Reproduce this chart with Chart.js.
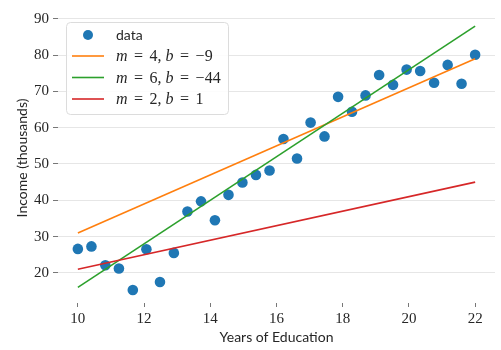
<!DOCTYPE html>
<html><head><meta charset="utf-8">
<script src="https://cdn.jsdelivr.net/npm/chart.js@4/dist/chart.umd.min.js"></script>
<style>html,body{margin:0;padding:0;background:#fff}#wrap{width:501px;height:350px;position:relative}</style>
</head><body><div id="wrap"><canvas id="c"></canvas></div>
<script>
const years = [10.00,10.41,10.83,11.24,11.66,12.07,12.48,12.90,13.31,13.72,14.14,14.55,14.97,15.38,15.79,16.21,16.62,17.03,17.45,17.86,18.28,18.69,19.10,19.52,19.93,20.34,20.76,21.17,21.59,22.00];
const income = [26.6,27.3,22.1,21.2,15.3,26.5,17.5,25.5,36.9,39.7,34.5,41.5,44.9,47.0,48.2,56.9,51.5,61.4,57.6,68.5,64.4,68.9,74.5,71.8,76.0,75.6,72.4,77.3,72.1,80.1];
const lineX = [10, 22];
const lineOrange = [31, 79];
const lineGreen = [16, 88];
const lineRed = [21, 45];
const seriesLabels = ['data', '$m = 4, b = −9', '$m = 6, b = −44', '$m = 2, b = 1'];
const xTicks = [10, 12, 14, 16, 18, 20, 22];
const yTicks = [20, 30, 40, 50, 60, 70, 80, 90];
const xTitle = 'Years of Education';
const yTitle = 'Income (thousands)';

const TXT = '#262626';
const COLORS = ['#1f77b4', '#ff7f0e', '#2ca02c', '#d62728'];

const pts = (xs, ys) => xs.map((x, i) => ({x: x, y: ys[i]}));

const legendPlugin = {
  id: 'boxLegend',
  afterDraw(chart) {
    const ctx = chart.ctx;
    const ca = chart.chartArea;
    const x0 = ca.left + 8, y0 = ca.top + 9, w = 162, h = 92;
    ctx.save();
    ctx.beginPath();
    ctx.roundRect(x0 + 0.5, y0 + 0.5, w, h, 4);
    ctx.fillStyle = 'rgba(255,255,255,0.85)';
    ctx.fill();
    ctx.strokeStyle = '#dcdcdc';
    ctx.lineWidth = 1;
    ctx.stroke();
    const rowsY = [13, 34, 55.5, 77];
    chart.data.datasets.forEach((ds, i) => {
      const y = y0 + rowsY[i];
      if (i === 0) {
        ctx.beginPath();
        ctx.arc(x0 + 22, y, 5, 0, Math.PI * 2);
        ctx.fillStyle = ds.backgroundColor;
        ctx.fill();
      } else {
        ctx.beginPath();
        ctx.moveTo(x0 + 6, y);
        ctx.lineTo(x0 + 38, y);
        ctx.strokeStyle = ds.borderColor;
        ctx.lineWidth = 1.6;
        ctx.stroke();
      }
      ctx.fillStyle = TXT;
      ctx.textBaseline = 'middle';
      ctx.textAlign = 'left';
      let tx = x0 + 50;
      const label = ds.label;
      if (label.startsWith('$')) {
        const parts = label.slice(1).split(/([a-z]|=)/).filter(s => s.length);
        parts.forEach(p => {
          ctx.font = /^[a-z]$/.test(p) ? 'italic 16px "Liberation Serif"' : '16px "Liberation Serif"';
          if (p === '=') tx += 2.5;
          ctx.fillText(p, tx, y + 1);
          tx += ctx.measureText(p).width;
          if (p === '=') tx += 2.5;
        });
      } else {
        ctx.font = '14px Lato';
        ctx.fillText(label, tx, y);
      }
    });
    ctx.restore();
  }
};

new Chart(document.getElementById('c'), {
  type: 'scatter',
  data: {
    datasets: [
      {label: seriesLabels[0], data: pts(years, income), backgroundColor: COLORS[0], borderColor: COLORS[0], pointRadius: 5.3, pointHoverRadius: 5.3, borderWidth: 0, order: 4},
      {label: seriesLabels[1], data: pts(lineX, lineOrange), showLine: true, borderColor: COLORS[1], backgroundColor: COLORS[1], borderWidth: 1.6, pointRadius: 0, order: 3},
      {label: seriesLabels[2], data: pts(lineX, lineGreen), showLine: true, borderColor: COLORS[2], backgroundColor: COLORS[2], borderWidth: 1.6, pointRadius: 0, order: 2},
      {label: seriesLabels[3], data: pts(lineX, lineRed), showLine: true, borderColor: COLORS[3], backgroundColor: COLORS[3], borderWidth: 1.6, pointRadius: 0, order: 1}
    ]
  },
  options: {
    responsive: true,
    maintainAspectRatio: false,
    animation: false,
    layout: {padding: {top: 10, right: 6, left: 0, bottom: 0}},
    plugins: {legend: {display: false}, tooltip: {enabled: false}},
    scales: {
      x: {
        type: 'linear', min: 9.4, max: 22.6,
        afterBuildTicks: s => { s.ticks = xTicks.map(v => ({value: v})); },
        afterFit: s => { s.height = 47; },
        border: {display: false},
        grid: {display: true, drawOnChartArea: false, drawTicks: true, tickLength: 4, tickColor: '#777', tickWidth: 1},
        ticks: {color: TXT, font: {family: 'Liberation Serif', size: 15}, padding: 3, maxRotation: 0},
        title: {display: true, text: xTitle, color: TXT, font: {family: 'Lato', size: 14}, padding: {top: 0, bottom: 4}}
      },
      y: {
        type: 'linear', min: 11.7, max: 91.6,
        afterBuildTicks: s => { s.ticks = yTicks.map(v => ({value: v})); },
        afterFit: s => { s.width = 58; },
        border: {display: false},
        grid: {display: true, color: '#e6e6e6', lineWidth: 1, drawTicks: true, tickLength: 5, tickColor: '#777'},
        ticks: {color: TXT, font: {family: 'Liberation Serif', size: 15}, padding: 4},
        title: {display: true, text: yTitle, color: TXT, font: {family: 'Lato', size: 14}, padding: {top: 14, bottom: 0}}
      }
    }
  },
  plugins: [legendPlugin]
});
</script></body></html>
